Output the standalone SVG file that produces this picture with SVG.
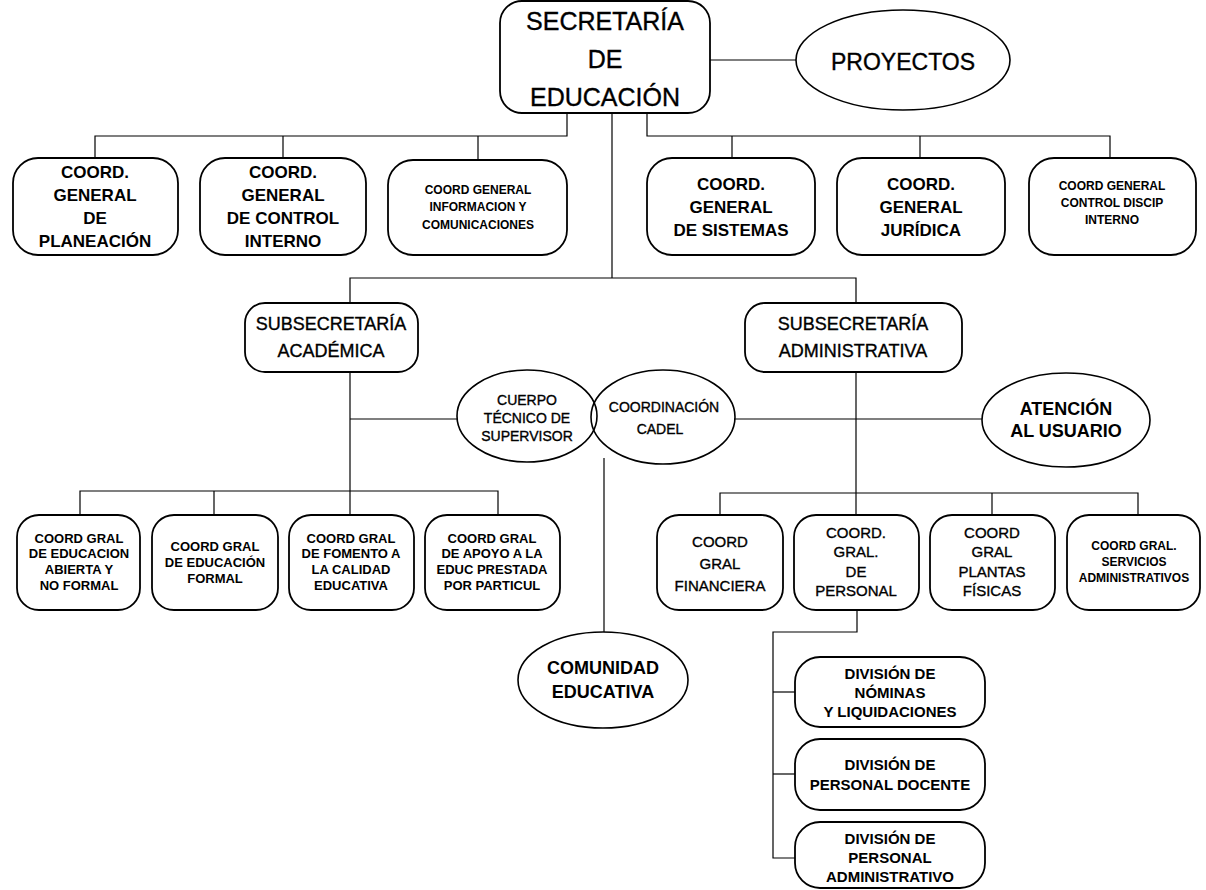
<svg xmlns="http://www.w3.org/2000/svg" width="1206" height="890" viewBox="0 0 1206 890">
<style>
.box{fill:#fff;stroke:#000;stroke-width:1.8}
.ell{fill:none;stroke:#000;stroke-width:1.6}
.ln{fill:none;stroke:#000;stroke-width:1.2}
text{font-family:"Liberation Sans",Arial,sans-serif;text-anchor:middle;dominant-baseline:central;fill:#000}
.b{font-weight:bold}
.r{stroke:#000;stroke-width:0.35}
.t25{font-size:25px}.t23{font-size:23px}.t18{font-size:18px}.t17{font-size:17px}.t15{font-size:15px}.t14{font-size:14px}.t13{font-size:13px}.t12{font-size:12px}
</style>
<rect width="1206" height="890" fill="#fff"/>
<g id="connectors" class="ln">
<path d="M710,60H796"/>
<path d="M567,113V136H95V158"/>
<path d="M283,136V158"/>
<path d="M478,136V160"/>
<path d="M647,113V136H1110V158"/>
<path d="M732,136V158"/>
<path d="M920,136V158"/>
<path d="M612,113V278"/>
<path d="M350,303V278H856V303"/>
<path d="M350,372V515"/>
<path d="M856,372V515"/>
<path d="M350,419H457"/>
<path d="M734,419H982"/>
<path d="M80,515V491H498V515"/>
<path d="M214,491V515"/>
<path d="M720,515V493H1138V515"/>
<path d="M992,493V515"/>
<path d="M857,610V632H773V858H795"/>
<path d="M773,692H795"/>
<path d="M773,774H795"/>
<path d="M604,458V632"/>
</g>
<g id="secretaria">
<rect class="box" x="500" y="1" width="210" height="112" rx="22"/>
<text class="t25 r" x="605" y="21">SECRETARÍA</text>
<text class="t25 r" x="605" y="59">DE</text>
<text class="t25 r" x="605" y="97">EDUCACIÓN</text>
</g>
<g id="proyectos">
<ellipse class="ell" cx="903" cy="60" rx="107" ry="50"/>
<text class="t23 r" x="903" y="62">PROYECTOS</text>
</g>
<g id="coord-planeacion">
<rect class="box" x="13" y="158" width="165" height="97" rx="25"/>
<text class="t17 b" x="95" y="172">COORD.</text>
<text class="t17 b" x="95" y="195">GENERAL</text>
<text class="t17 b" x="95" y="218">DE</text>
<text class="t17 b" x="95" y="241">PLANEACIÓN</text>
</g>
<g id="coord-control-interno">
<rect class="box" x="200" y="158" width="166" height="97" rx="25"/>
<text class="t17 b" x="283" y="172">COORD.</text>
<text class="t17 b" x="283" y="195">GENERAL</text>
<text class="t17 b" x="283" y="218">DE CONTROL</text>
<text class="t17 b" x="283" y="241">INTERNO</text>
</g>
<g id="coord-informacion">
<rect class="box" x="388" y="160" width="179" height="95" rx="25"/>
<text class="t12 b" x="478" y="190">COORD  GENERAL</text>
<text class="t12 b" x="478" y="207">INFORMACION Y</text>
<text class="t12 b" x="478" y="225">COMUNICACIONES</text>
</g>
<g id="coord-sistemas">
<rect class="box" x="647" y="158" width="168" height="97" rx="25"/>
<text class="t17 b" x="731" y="184">COORD.</text>
<text class="t17 b" x="731" y="207">GENERAL</text>
<text class="t17 b" x="731" y="230">DE SISTEMAS</text>
</g>
<g id="coord-juridica">
<rect class="box" x="837" y="158" width="168" height="97" rx="25"/>
<text class="t17 b" x="921" y="184">COORD.</text>
<text class="t17 b" x="921" y="207">GENERAL</text>
<text class="t17 b" x="921" y="230">JURÍDICA</text>
</g>
<g id="coord-control-discip">
<rect class="box" x="1029" y="158" width="167" height="97" rx="25"/>
<text class="t12 b" x="1112" y="186">COORD  GENERAL</text>
<text class="t12 b" x="1112" y="203">CONTROL DISCIP</text>
<text class="t12 b" x="1112" y="220">INTERNO</text>
</g>
<g id="subsec-academica">
<rect class="box" x="245" y="303" width="173" height="69" rx="20"/>
<text class="t18 r" x="331" y="324">SUBSECRETARÍA</text>
<text class="t18 r" x="331" y="351">ACADÉMICA</text>
</g>
<g id="subsec-administrativa">
<rect class="box" x="745" y="303" width="217" height="69" rx="20"/>
<text class="t18 r" x="853" y="324">SUBSECRETARÍA</text>
<text class="t18 r" x="853" y="351">ADMINISTRATIVA</text>
</g>
<g id="cuerpo-tecnico">
<ellipse class="ell" cx="527" cy="416" rx="70" ry="46"/>
<text class="t14 r" x="527" y="400">CUERPO</text>
<text class="t14 r" x="527" y="418">TÉCNICO DE</text>
<text class="t14 r" x="527" y="436">SUPERVISOR</text>
</g>
<g id="coordinacion-cadel">
<ellipse class="ell" cx="663" cy="417" rx="72" ry="47"/>
<text class="t14 r" x="664" y="407">COORDINACIÓN</text>
<text class="t14 r" x="660" y="429">CADEL</text>
</g>
<g id="atencion-usuario">
<ellipse class="ell" cx="1066" cy="420" rx="84" ry="47"/>
<text class="t18 b" x="1066" y="409">ATENCIÓN</text>
<text class="t18 b" x="1066" y="431">AL USUARIO</text>
</g>
<g id="coord-educ-abierta">
<rect class="box" x="17" y="515" width="123" height="95" rx="22"/>
<text class="t13 b" x="79" y="538">COORD  GRAL</text>
<text class="t13 b" x="79" y="553">DE EDUCACION</text>
<text class="t13 b" x="79" y="569">ABIERTA Y</text>
<text class="t13 b" x="79" y="585">NO FORMAL</text>
</g>
<g id="coord-educ-formal">
<rect class="box" x="152" y="515" width="126" height="95" rx="22"/>
<text class="t13 b" x="215" y="546">COORD  GRAL</text>
<text class="t13 b" x="215" y="562">DE EDUCACIÓN</text>
<text class="t13 b" x="215" y="578">FORMAL</text>
</g>
<g id="coord-calidad">
<rect class="box" x="289" y="515" width="125" height="95" rx="22"/>
<text class="t13 b" x="351" y="538">COORD  GRAL</text>
<text class="t13 b" x="351" y="553">DE FOMENTO A</text>
<text class="t13 b" x="351" y="569">LA CALIDAD</text>
<text class="t13 b" x="351" y="585">EDUCATIVA</text>
</g>
<g id="coord-apoyo">
<rect class="box" x="425" y="515" width="135" height="95" rx="22"/>
<text class="t13 b" x="492" y="538">COORD  GRAL</text>
<text class="t13 b" x="492" y="553">DE APOYO A LA</text>
<text class="t13 b" x="492" y="569">EDUC  PRESTADA</text>
<text class="t13 b" x="492" y="585">POR PARTICUL</text>
</g>
<g id="coord-financiera">
<rect class="box" x="657" y="515" width="126" height="95" rx="22"/>
<text class="t15 r" x="720" y="541">COORD</text>
<text class="t15 r" x="720" y="563">GRAL</text>
<text class="t15 r" x="720" y="585">FINANCIERA</text>
</g>
<g id="coord-personal">
<rect class="box" x="794" y="515" width="125" height="95" rx="22"/>
<text class="t15 r" x="856" y="532">COORD.</text>
<text class="t15 r" x="856" y="551">GRAL.</text>
<text class="t15 r" x="856" y="571">DE</text>
<text class="t15 r" x="856" y="590">PERSONAL</text>
</g>
<g id="coord-plantas">
<rect class="box" x="930" y="515" width="125" height="95" rx="22"/>
<text class="t15 r" x="992" y="532">COORD</text>
<text class="t15 r" x="992" y="551">GRAL</text>
<text class="t15 r" x="992" y="571">PLANTAS</text>
<text class="t15 r" x="992" y="590">FÍSICAS</text>
</g>
<g id="coord-servicios">
<rect class="box" x="1067" y="515" width="133" height="95" rx="22"/>
<text class="t12 b" x="1134" y="546">COORD  GRAL.</text>
<text class="t12 b" x="1134" y="562">SERVICIOS</text>
<text class="t12 b" x="1134" y="578">ADMINISTRATIVOS</text>
</g>
<g id="comunidad-educativa">
<ellipse class="ell" cx="603" cy="680" rx="85" ry="48"/>
<text class="t18 b" x="603" y="668">COMUNIDAD</text>
<text class="t18 b" x="603" y="692">EDUCATIVA</text>
</g>
<g id="div-nominas">
<rect class="box" x="795" y="657" width="190" height="70" rx="25"/>
<text class="t15 b" x="890" y="673">DIVISIÓN DE</text>
<text class="t15 b" x="890" y="692">NÓMINAS</text>
<text class="t15 b" x="890" y="711">Y LIQUIDACIONES</text>
</g>
<g id="div-docente">
<rect class="box" x="795" y="739" width="190" height="71" rx="25"/>
<text class="t15 b" x="890" y="764">DIVISIÓN DE</text>
<text class="t15 b" x="890" y="784">PERSONAL DOCENTE</text>
</g>
<g id="div-administrativo">
<rect class="box" x="795" y="822" width="190" height="66" rx="25"/>
<text class="t15 b" x="890" y="838">DIVISIÓN DE</text>
<text class="t15 b" x="890" y="857">PERSONAL</text>
<text class="t15 b" x="890" y="876">ADMINISTRATIVO</text>
</g>
</svg>
